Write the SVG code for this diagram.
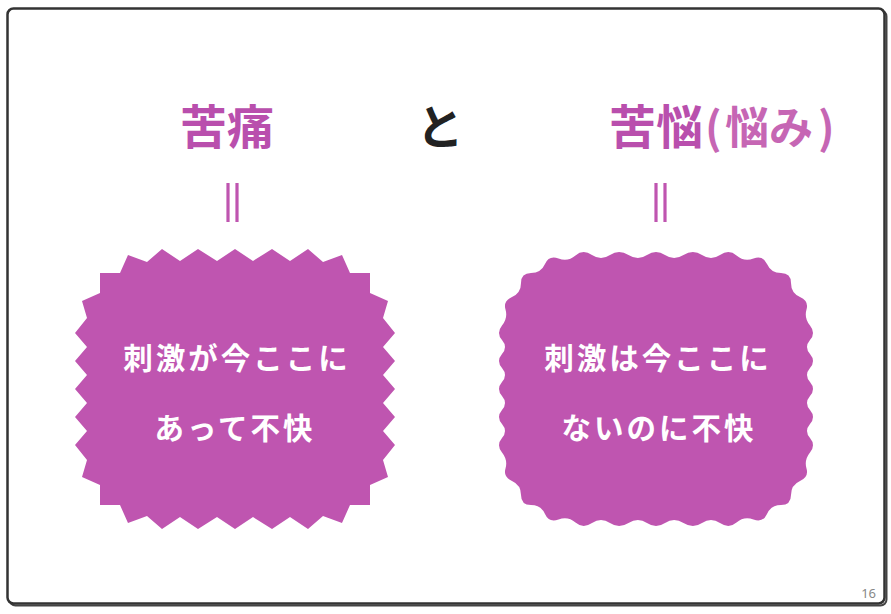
<svg xmlns="http://www.w3.org/2000/svg" width="891" height="614" viewBox="0 0 891 614">
<style>
.t{font-family:"Noto Sans CJK JP","Noto Sans",sans-serif;font-weight:700}
.title{font-size:47px;fill:#b94fad}
.light{fill:#c666b4;font-size:44px}
.box{font-size:29.5px;fill:#ffffff;text-anchor:middle;letter-spacing:3px}
.shape{fill:#bf55b0}
.eq{stroke:#bf55b0;stroke-width:3.2}
</style>
<rect x="9.5" y="10.5" width="877" height="595" rx="6" fill="none" stroke="#444" stroke-width="2"/>
<rect x="7.5" y="8.5" width="877" height="595" rx="6" fill="#ffffff" stroke="#333" stroke-width="2.5"/>
<g id="title-kutsuu">
<text class="t title" x="227" y="144" text-anchor="middle">苦痛</text>
</g>
<g id="title-to">
<text class="t" x="440" y="144" text-anchor="middle" font-size="47" fill="#222">と</text>
</g>
<g id="title-kunou">
<text class="t title" y="144"><tspan x="609">苦悩</tspan><tspan x="705" class="light">(</tspan><tspan x="725" class="light">悩み</tspan><tspan x="818" class="light">)</tspan></text>
</g>
<g id="connectors">
<line class="eq" x1="228" y1="183" x2="228" y2="222"/>
<line class="eq" x1="237" y1="183" x2="237" y2="222"/>
<line class="eq" x1="656" y1="183" x2="656" y2="222"/>
<line class="eq" x1="665" y1="183" x2="665" y2="222"/>
</g>
<g id="node-pain">
<polygon class="shape" points="100,273 120,273 128,255 147,262 162,249 180,261 198,249 217,261 235,249 253,261 272,249 290,261 308,249 323,262 342,255 350,273 370,273 370,293 388,301 383,318 395,333 383,347 395,361 383,375 395,389 383,403 395,417 383,431 395,445 383,460 388,477 370,485 370,505 350,505 342,523 323,516 308,529 290,517 272,529 253,517 235,529 217,517 198,529 180,517 162,529 147,516 128,523 120,505 100,505 100,485 82,477 87,460 75,445 87,431 75,417 87,403 75,389 87,375 75,361 87,347 75,333 87,318 82,301 100,293"/>
<text class="t box" x="237" y="369">刺激が今ここに</text>
<text class="t box" x="235" y="439">あって不快</text>
</g>
<g id="node-suffering">
<path class="shape" transform="translate(421,0)" d="M100,283 Q100,273 110,273 Q120,273 124,264 Q128,255 137.5,258.5 Q147,262 154.5,255.5 Q162,249 171,255 Q180,261 189,255 Q198,249 207.5,255 Q217,261 226,255 Q235,249 244,255 Q253,261 262.5,255 Q272,249 281,255 Q290,261 299,255 Q308,249 315.5,255.5 Q323,262 332.5,258.5 Q342,255 346,264 Q350,273 360,273 Q370,273 370,283 Q370,293 379,297 Q388,301 385.5,309.5 Q383,318 389,325.5 Q395,333 389,340 Q383,347 389,354 Q395,361 389,368 Q383,375 389,382 Q395,389 389,396 Q383,403 389,410 Q395,417 389,424 Q383,431 389,438 Q395,445 389,452.5 Q383,460 385.5,468.5 Q388,477 379,481 Q370,485 370,495 Q370,505 360,505 Q350,505 346,514 Q342,523 332.5,519.5 Q323,516 315.5,522.5 Q308,529 299,523 Q290,517 281,523 Q272,529 262.5,523 Q253,517 244,523 Q235,529 226,523 Q217,517 207.5,523 Q198,529 189,523 Q180,517 171,523 Q162,529 154.5,522.5 Q147,516 137.5,519.5 Q128,523 124,514 Q120,505 110,505 Q100,505 100,495 Q100,485 91,481 Q82,477 84.5,468.5 Q87,460 81,452.5 Q75,445 81,438 Q87,431 81,424 Q75,417 81,410 Q87,403 81,396 Q75,389 81,382 Q87,375 81,368 Q75,361 81,354 Q87,347 81,340 Q75,333 81,325.5 Q87,318 84.5,309.5 Q82,301 91,297 Q100,293 100,283 Z"/>
<text class="t box" x="658" y="369">刺激は今ここに</text>
<text class="t box" x="659" y="439">ないのに不快</text>
</g>
<text x="876" y="598" font-family="'Noto Sans','Liberation Sans',sans-serif" font-size="13" fill="#888" text-anchor="end">16</text>
</svg>
